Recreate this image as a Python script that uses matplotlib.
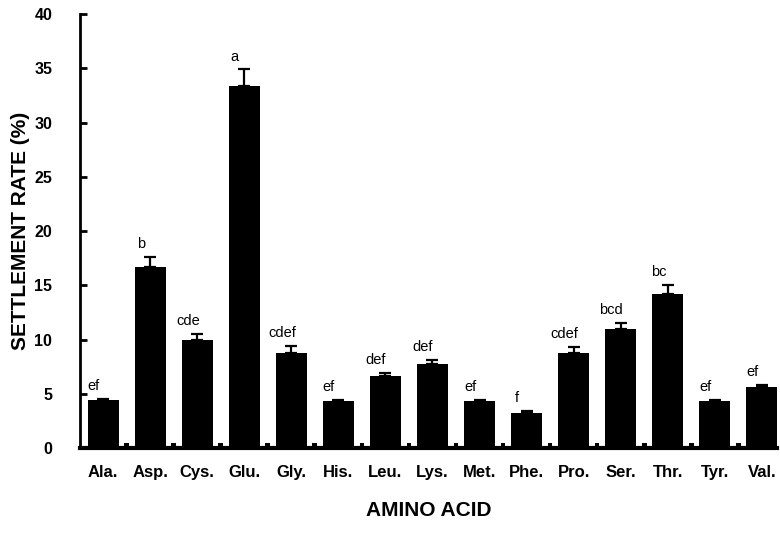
"""Settlement rate of larvae exposed to single amino acids."""

import matplotlib
matplotlib.use('Agg')
import matplotlib.pyplot as plt
import numpy as np


AMINO_ACIDS = ['Ala.', 'Asp.', 'Cys.', 'Glu.', 'Gly.', 'His.', 'Leu.', 'Lys.',
               'Met.', 'Phe.', 'Pro.', 'Ser.', 'Thr.', 'Tyr.', 'Val.']
SETTLEMENT = [4.4, 16.7, 10.0, 33.4, 8.8, 4.3, 6.6, 7.75,
              4.3, 3.25, 8.8, 11.0, 14.2, 4.3, 5.6]
ERRORS = [0.1, 0.9, 0.5, 1.5, 0.6, 0.1, 0.35, 0.35,
          0.1, 0.2, 0.5, 0.55, 0.85, 0.1, 0.2]
CONTROL = [0.45] * 15
GROUPS = ['ef', 'b', 'cde', 'a', 'cdef', 'ef', 'def', 'def',
          'ef', 'f', 'cdef', 'bcd', 'bc', 'ef', 'ef']
Y_TICKS = [0, 5, 10, 15, 20, 25, 30, 35, 40]


def main():
  plt.rcParams['font.family'] = ['Liberation Sans', 'DejaVu Sans']
  fig = plt.figure(figsize=(7.8, 5.45), dpi=100)
  axis = fig.add_axes([0.1026, 0.178, 0.894, 0.796])

  x = np.arange(len(AMINO_ACIDS))
  settlement = np.asarray(SETTLEMENT)
  errors = np.asarray(ERRORS)
  axis.bar(x, settlement, width=0.66, color='black', zorder=2)
  axis.errorbar(
      x, settlement, yerr=[np.zeros_like(errors), errors], fmt='none',
      ecolor='black', elinewidth=1.6, capsize=4, capthick=1.6, zorder=3)
  # Tiny control bars sitting between the treatment bars.
  axis.bar(x + 0.5, CONTROL, width=0.1, color='black', zorder=2)

  for position, value, error, group in zip(x, settlement, errors, GROUPS):
    axis.text(position - 0.2, value + error + 0.55, group, ha='center',
              va='bottom', fontsize=10.5, color='black')

  axis.set_xlim(-0.49, 14.33)
  axis.set_ylim(0, 40)
  axis.set_yticks(Y_TICKS)
  axis.set_xticks(x)
  axis.set_xticklabels(AMINO_ACIDS, fontsize=12, fontweight='bold')
  axis.tick_params(axis='x', length=0, pad=12)
  axis.tick_params(axis='y', direction='in', length=5, width=2, pad=20,
                   labelsize=11.5)
  for label in axis.get_yticklabels():
    label.set_fontweight('bold')

  axis.spines['top'].set_visible(False)
  axis.spines['right'].set_visible(False)
  axis.spines['left'].set_linewidth(2)
  axis.spines['bottom'].set_linewidth(3)

  axis.set_ylabel('SETTLEMENT RATE (%)', fontsize=15, fontweight='bold')
  axis.yaxis.set_label_coords(-0.085, 0.5)
  axis.set_xlabel('AMINO ACID', fontsize=15, fontweight='bold')
  axis.xaxis.set_label_coords(0.5, -0.143)
  axis.xaxis.label.set_verticalalignment('center')
  axis.yaxis.label.set_verticalalignment('center')

  fig.savefig('out.png', dpi=100)
  plt.close(fig)


if __name__ == '__main__':
  main()
